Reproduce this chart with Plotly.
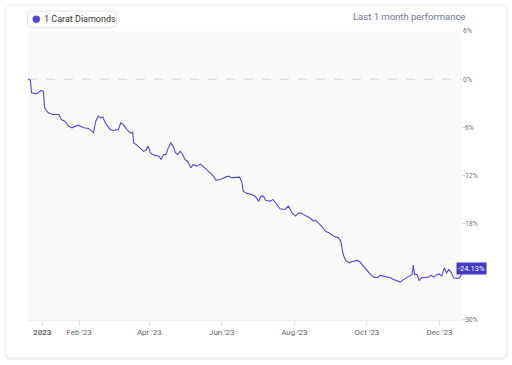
import pandas as pd
import plotly.graph_objects as go

start_date = "2022-12-20"
day_offsets = [0, 2, 3, 7, 11, 13, 14, 17, 21, 26, 28, 31, 34, 37, 42, 47, 51, 55, 57, 59,
               61, 63, 65, 69, 72, 76, 78, 80, 83, 86, 88, 89, 91, 94, 97, 99, 101, 103, 106, 110,
               112, 114, 116, 118, 120, 122, 124, 126, 128, 130, 132, 135, 137, 139, 142, 145, 147, 150, 153, 156,
               158, 162, 166, 169, 171, 175, 178, 180, 181, 184, 188, 191, 194, 196, 198, 200, 204, 206, 209, 212,
               216, 219, 222, 225, 228, 230, 234, 237, 240, 242, 244, 247, 250, 253, 257, 261, 263, 264, 265, 267,
               270, 272, 277, 279, 282, 285, 288, 291, 294, 296, 299, 302, 305, 307, 310, 313, 316, 319, 322, 323,
               324, 325, 327, 329, 331, 334, 337, 339, 341, 344, 346, 348, 350, 352, 354, 356, 358, 361, 363, 365]
performance = [0.00, -0.12, -1.71, -1.83, -1.41, -1.58, -3.57, -4.20, -4.40, -4.40, -5.02, -5.23, -5.85, -6.06, -5.73, -6.06, -6.14, -6.69, -5.23, -4.61,
               -4.82, -4.73, -5.44, -6.26, -6.39, -6.26, -5.44, -5.64, -6.26, -6.69, -6.60, -7.97, -8.13, -8.56, -8.97, -8.88, -8.34, -9.18, -9.46, -9.59,
               -10.00, -9.38, -9.38, -8.56, -7.93, -8.34, -9.18, -9.38, -8.97, -9.38, -10.00, -10.42, -11.05, -10.62, -10.83, -10.55, -10.83, -11.25, -11.67, -12.08,
               -12.58, -12.49, -12.20, -12.08, -12.29, -12.29, -12.20, -12.91, -13.95, -14.23, -14.36, -14.57, -15.19, -14.57, -14.57, -15.11, -15.19, -14.98, -15.60, -16.15,
               -16.23, -15.82, -16.65, -17.06, -16.65, -16.72, -17.06, -17.27, -17.68, -17.60, -17.90, -18.31, -18.93, -19.14, -19.55, -19.76, -20.17, -21.17, -21.79, -22.54,
               -22.88, -22.75, -22.58, -22.75, -23.29, -23.70, -24.32, -24.66, -24.74, -24.45, -24.53, -24.66, -24.74, -24.94, -25.07, -25.28, -24.94, -24.66, -24.32, -24.32,
               -23.16, -24.32, -24.32, -25.07, -24.74, -24.66, -24.66, -24.41, -24.66, -24.32, -24.25, -24.53, -23.50, -24.12, -23.70, -24.12, -24.74, -24.82, -24.74, -24.13]

series_name = "1 Carat Diamonds"
title_text = "Last 1 month performance"
x_tick_dates = ["2023-01-01", "2023-02-01", "2023-04-01", "2023-06-01", "2023-08-01", "2023-10-01", "2023-12-01"]
x_tick_labels = ["<b>2023</b>", "Feb '23", "Apr '23", "Jun '23", "Aug '23", "Oct '23", "Dec '23"]
y_tick_values = [-30, -18, -12, -6, 0, 6]
y_tick_labels = [f"{v}%" for v in y_tick_values]

dates = pd.Timestamp(start_date) + pd.to_timedelta(day_offsets, unit="D")

LINE = "#4f46e5"
FONT = "Roboto, sans-serif"

fig = go.Figure()
fig.add_trace(go.Scatter(x=dates, y=performance, mode="lines",
                         line=dict(color=LINE, width=1.1), showlegend=False,
                         hoverinfo="skip"))

# card geometry in paper coords (plot area: x 28..462, y 31..320 px)
pw, ph = 434.0, 289.0
def px(xp):
    return (xp - 28) / pw
def py(yp):
    return (320 - yp) / ph

def rounded(x0, y0, x1, y1, r):
    rx, ry = r / pw, r / ph
    X0, X1 = px(x0), px(x1)
    Yt, Yb = py(y0), py(y1)
    return (f"M {X0+rx},{Yt} L {X1-rx},{Yt} Q {X1},{Yt} {X1},{Yt-ry} "
            f"L {X1},{Yb+ry} Q {X1},{Yb} {X1-rx},{Yb} L {X0+rx},{Yb} "
            f"Q {X0},{Yb} {X0},{Yb+ry} L {X0},{Yt-ry} Q {X0},{Yt} {X0+rx},{Yt} Z")

shapes = [
    dict(type="path", xref="paper", yref="paper", path=rounded(5, 6, 508, 360, 7),
         fillcolor="#f0f0f0", line=dict(width=0), layer="below"),
    dict(type="path", xref="paper", yref="paper", path=rounded(5, 5, 507, 358, 7),
         fillcolor="#ffffff", line=dict(color="#ececec", width=1), layer="below"),
    dict(type="path", xref="paper", yref="paper", path=rounded(27.5, 11, 116.5, 27.5, 3),
         fillcolor="#ffffff", line=dict(color="#e3e3e3", width=1), layer="below"),
    dict(type="circle", xref="paper", yref="paper", x0=px(32.6), x1=px(40), y0=py(15.6), y1=py(23),
         fillcolor=LINE, line=dict(width=0), layer="below"),
    dict(type="rect", xref="x domain", yref="y domain", x0=0, x1=1, y0=0, y1=1,
         fillcolor="#fafafa", line=dict(width=0), layer="below"),
    dict(type="line", xref="x domain", yref="y", x0=0, x1=1, y0=0, y1=0,
         line=dict(color="#d4d4d4", width=1, dash="dash"), layer="below"),
]

fig.update_layout(
    width=512, height=365,
    margin=dict(l=28, r=50, t=31, b=45, autoexpand=False),
    paper_bgcolor="#ffffff", plot_bgcolor="rgba(0,0,0,0)",
    font=dict(family=FONT, color="#666666"),
    shapes=shapes,
    showlegend=False,
    annotations=[
        dict(text=series_name,
             xref="paper", yref="paper", x=px(41.5), y=py(19.3),
             xanchor="left", yanchor="middle", showarrow=False,
             font=dict(family=FONT, size=9, color="#333333")),
        dict(text=title_text, xref="paper", yref="paper", x=px(467), y=py(17),
             xanchor="right", yanchor="middle", showarrow=False,
             font=dict(family=FONT, size=9.5, color="#6b7891")),
        dict(text=f"{performance[-1]:.2f}%", x=dates[-1], y=performance[-1], xref="x", yref="y",
             xanchor="left", yanchor="middle", showarrow=False, xshift=-6, yshift=4,
             bgcolor="#4338ca", borderpad=1,
             font=dict(family=FONT, size=7.5, color="#ffffff")),
    ],
    xaxis=dict(range=[dates[0], dates[-1]], tickvals=x_tick_dates, ticktext=x_tick_labels,
               showgrid=False, zeroline=False, showline=True, linecolor="#eeeeee",
               ticks="outside", ticklen=4, tickcolor="#dddddd",
               tickfont=dict(family=FONT, size=8, color="#666666")),
    yaxis=dict(range=[-30, 6], side="right", tickvals=y_tick_values, ticktext=y_tick_labels,
               showgrid=False, zeroline=False, showline=False, ticks="", ticklen=0,
               tickfont=dict(family=FONT, size=7, color="#777777")),
)

fig.write_html("out.html", config={"displayModeBar": False},
               post_script="document.body.style.margin='0';")
